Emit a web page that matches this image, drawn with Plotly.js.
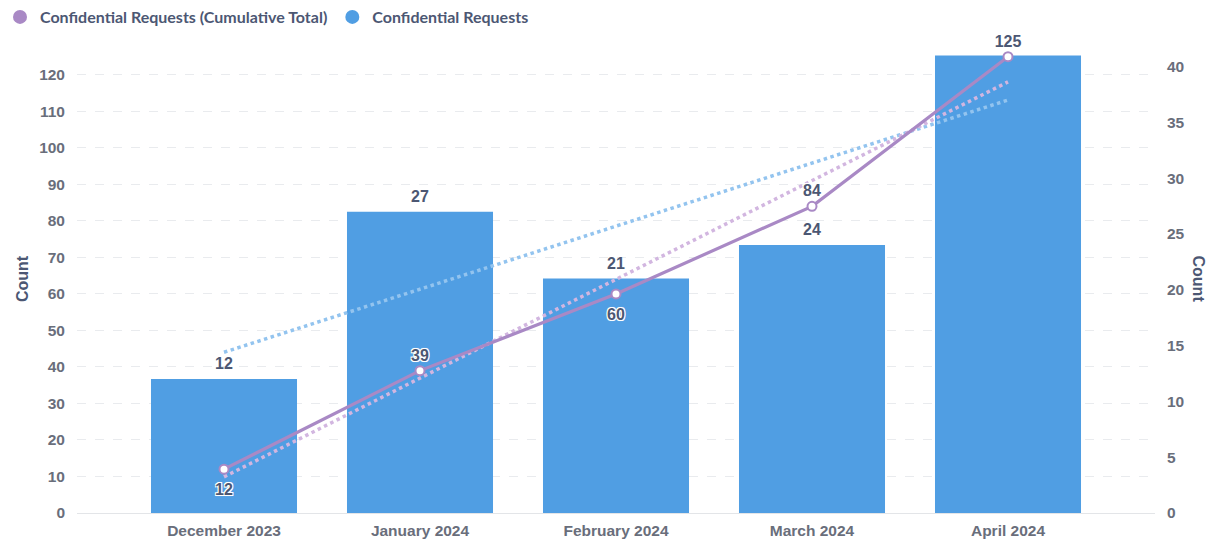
<!DOCTYPE html>
<html>
<head>
<meta charset="utf-8">
<script src="https://cdn.plot.ly/plotly-3.0.1.min.js"></script>
<style>
  html, body { margin: 0; padding: 0; background: #fff; }
  #chart { width: 1213px; height: 542px; }
</style>
</head>
<body>
<div id="chart"></div>
<script>
// Chart data
const months = ['December 2023', 'January 2024', 'February 2024', 'March 2024', 'April 2024'];
const requests = [12, 27, 21, 24, 41];
const requestLabels = ['12', '27', '21', '24', ''];   // April label hidden behind the 125 label
const cumulative = [12, 39, 60, 84, 125];
const cumulativeLabelPos = ['bottom center', 'top center', 'bottom center', 'top center', 'top center'];

// Trend line end points (first and last month)
const trendMonths = ['December 2023', 'April 2024'];
const requestsTrend = [14.4, 37.0];
const cumulativeTrend = [9.9, 118.1];

const BLUE = '#509EE3';
const PURPLE = '#A989C5';
const DARK = '#4C5773';
const GREY = '#696E7B';
const outline = '-1px -1px 0 #fff, 1px -1px 0 #fff, -1px 1px 0 #fff, 1px 1px 0 #fff, 0 0 2px #fff';

const labelFont = { family: 'Liberation Sans, Arial, sans-serif', size: 16, color: DARK, weight: 'bold' };

// legend entries with round dots (they also anchor the base left axis)
const legendCum = {
  x: [null], y: [null], type: 'scatter', mode: 'markers',
  name: 'Confidential Requests (Cumulative Total)',
  marker: { size: 14, color: PURPLE }
};
const legendReq = {
  x: [null], y: [null], type: 'scatter', mode: 'markers',
  name: 'Confidential Requests',
  marker: { size: 14, color: BLUE }
};

// bars on the right-hand axis (y2)
const barTrace = {
  x: months, y: requests, type: 'bar', yaxis: 'y2',
  marker: { color: BLUE }, width: 0.745,
  showlegend: false, hoverinfo: 'skip'
};

// invisible markers that carry the bar value labels
const barLabels = {
  x: months, y: requests, yaxis: 'y2',
  type: 'scatter', mode: 'markers+text',
  marker: { size: 8, opacity: 0 },
  text: requestLabels, textposition: 'top center',
  textfont: labelFont, cliponaxis: false,
  showlegend: false, hoverinfo: 'skip'
};

// blue trend on a hidden copy of the right scale (y3) so it sits above the bars
const barTrend = {
  x: trendMonths, y: requestsTrend, yaxis: 'y3',
  type: 'scatter', mode: 'lines',
  line: { color: '#93C4EF', width: 3.5, dash: 'dot' },
  showlegend: false, hoverinfo: 'skip'
};

// cumulative line on a hidden copy of the left scale (y4)
const cumTrend = {
  x: trendMonths, y: cumulativeTrend, yaxis: 'y4',
  type: 'scatter', mode: 'lines',
  line: { color: '#D2B6E0', width: 3.5, dash: 'dot' },
  showlegend: false, hoverinfo: 'skip'
};

const cumTrace = {
  x: months, y: cumulative, yaxis: 'y4',
  type: 'scatter', mode: 'lines+markers',
  line: { color: PURPLE, width: 3.2 },
  marker: { size: 9, color: '#fff', line: { color: PURPLE, width: 2 } },
  cliponaxis: false, showlegend: false, hoverinfo: 'skip'
};

const cumLabels = {
  x: months, y: cumulative, yaxis: 'y4',
  type: 'scatter', mode: 'markers+text',
  marker: { size: cumulativeLabelPos.map(p => p.startsWith('top') ? 8 : 21), opacity: 0 },
  text: cumulative.map(String), textposition: cumulativeLabelPos,
  textfont: Object.assign({}, labelFont, { shadow: outline }),
  cliponaxis: false, showlegend: false, hoverinfo: 'skip'
};

const tickFont = { family: 'Liberation Sans, Arial, sans-serif', size: 15.5, color: GREY, weight: 'bold' };
const titleFont = { family: 'Liberation Sans, Arial, sans-serif', size: 16, color: DARK, weight: 'bold' };

const layout = {
  width: 1213, height: 542,
  margin: { l: 77, r: 58, t: 45, b: 29 },
  paper_bgcolor: '#fff', plot_bgcolor: '#fff',
  showlegend: true,
  legend: {
    orientation: 'h', xref: 'container', yref: 'container',
    x: -0.0075, xanchor: 'left', y: 1, yanchor: 'top',
    font: { family: 'Lato, sans-serif', size: 16, color: DARK, weight: 'bold' },
    itemwidth: 30, tracegroupgap: 0
  },
  xaxis: {
    type: 'category', categoryarray: months, range: [-0.75, 4.75],
    showgrid: false, zeroline: false,
    showline: true, linecolor: '#E3E5E8', linewidth: 1,
    tickfont: tickFont, ticks: '', ticklabelstandoff: 3
  },
  // left scale: grid and tick labels
  yaxis: {
    range: [0, 128.2], dtick: 10, side: 'left',
    showgrid: true, gridcolor: '#E9EBEE', griddash: 'dash', gridwidth: 1,
    zeroline: false, tickfont: tickFont, ticks: '', ticklabelstandoff: 11,
    title: { text: 'Count', font: titleFont, standoff: 6 }
  },
  // right scale for the bars
  yaxis2: {
    range: [0, 41.93], dtick: 5, side: 'right', overlaying: 'y',
    showgrid: false, zeroline: false, tickfont: tickFont, ticks: '', ticklabelstandoff: 11
  },
  yaxis3: { range: [0, 41.93], overlaying: 'y', side: 'right', visible: false },
  yaxis4: { range: [0, 128.2], overlaying: 'y', side: 'left', visible: false },
  annotations: [{
    text: 'Count', textangle: 90, showarrow: false,
    xref: 'paper', yref: 'paper', x: 1.0, xshift: 54, y: 0.5,
    font: titleFont
  }],
  hovermode: false
};

Plotly.newPlot('chart',
  [legendCum, legendReq, barTrace, barLabels, barTrend, cumTrend, cumTrace, cumLabels],
  layout, { displayModeBar: false, staticPlot: true });
</script>
</body>
</html>
